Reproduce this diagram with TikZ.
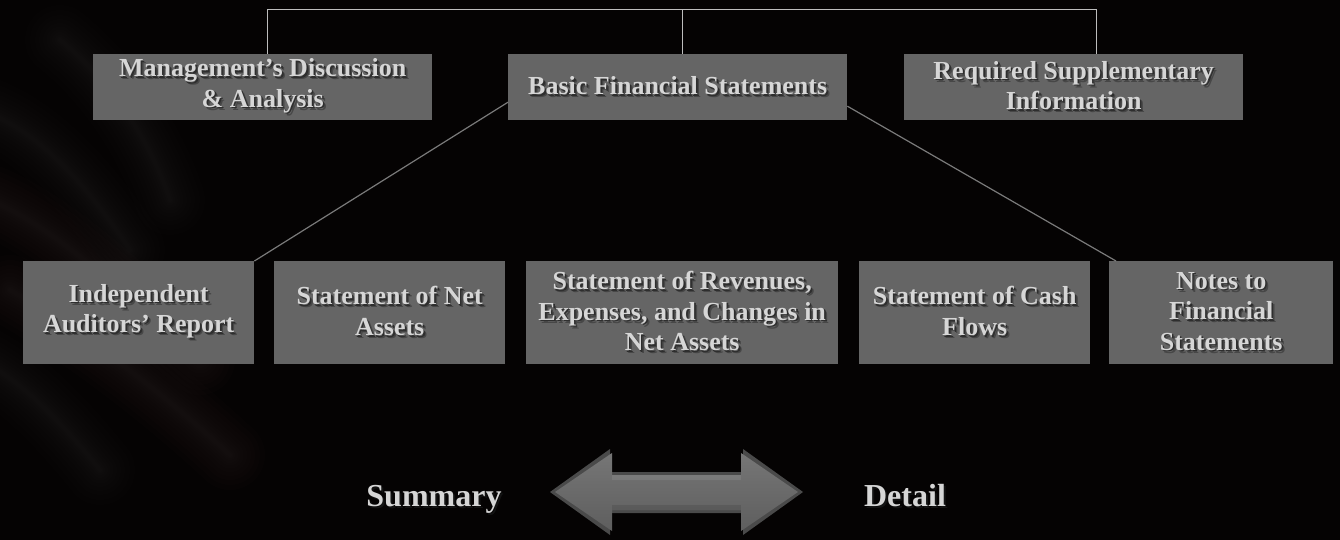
\documentclass[tikz,border=0pt]{standalone}
\usepackage{fontspec}
\setmainfont{Liberation Serif}
\definecolor{bgblack}{HTML}{050303}
\definecolor{boxgray}{HTML}{656565}
\definecolor{txtgray}{HTML}{D6D6D6}
\definecolor{shadownear}{HTML}{2E2E2E}
\definecolor{shadowfar}{HTML}{474747}
\definecolor{bracketgray}{HTML}{BDBDBD}
\definecolor{diaggray}{HTML}{7A7A7A}
\definecolor{streakgray}{HTML}{B4AAAA}
\definecolor{arrowedge}{HTML}{4A4A4A}
\definecolor{arrowtop}{HTML}{767676}
\definecolor{arrowbot}{HTML}{5E5E5E}

% a line of text with a soft dark drop shadow behind it
\newcommand\sh[1]{%
  \rlap{\kern3pt\raisebox{-3pt}{\textcolor{shadowfar}{#1}}}%
  \rlap{\kern1.6pt\raisebox{-1.6pt}{\textcolor{shadownear}{#1}}}#1}
% a shadow on black for the free-standing labels
\newcommand\shb[1]{%
  \rlap{\kern2pt\raisebox{-2pt}{\textcolor{black!85!gray}{#1}}}#1}

% one grey panel with a centred bold caption
\newcommand\panel[6]{%
  \node[panelbox, minimum width=#4, minimum height=#5] (#1) at (#2,#3) {};
  \node[paneltext] (#1-text) at (#1.center) {#6};
}

\begin{document}
\begin{tikzpicture}[x=1pt,y=-1pt,
  panelbox/.style={fill=boxgray, draw=none, inner sep=0pt, anchor=north west},
  paneltext/.style={font=\bfseries\fontsize{26}{30.5}\selectfont, align=center,
    inner sep=0pt, text=txtgray},
  bigtext/.style={font=\bfseries\fontsize{32}{36}\selectfont, inner sep=0pt,
    anchor=base, text=txtgray},
  bracket/.style={draw=bracketgray, line width=1pt},
  diagonal/.style={draw=diaggray, line width=1.2pt},
  streak/.style={draw=streakgray, line cap=round}]

% canvas
\useasboundingbox (0,0) rectangle (1340,540);
\fill[bgblack] (0,0) rectangle (1340,540);

% faint smoky wisps on the left, built up from many soft layers
\foreach \w in {70,60,50,42,34,27,21,16,11,7,4} {
  \draw[streak, line width=\w, opacity=0.009]
    (-20,110) .. controls (40,130) and (90,190) .. (130,250);
  \draw[streak, line width=\w, opacity=0.011]
    (-10,200) .. controls (60,230) and (130,300) .. (200,360);
  \draw[streak, line width=\w, opacity=0.010]
    (10,290) .. controls (80,330) and (160,390) .. (230,455);
  \draw[streak, line width=\w, opacity=0.008]
    (-20,360) .. controls (20,380) and (60,420) .. (100,470);
  \draw[streak, line width=\w, opacity=0.007]
    (60,40) .. controls (110,80) and (150,140) .. (170,200);
}

% top row
\panel{mda}{93}{54}{339}{66}{\sh{Management’s Discussion}\\\sh{\& Analysis}}
\panel{bfs}{508}{54}{339}{66}{\sh{Basic Financial Statements}}
\panel{rsi}{904}{54}{339}{66}{\sh{Required Supplementary}\\\sh{Information}}

% bottom row
\panel{iar}{23}{261}{231}{103}{\sh{Independent}\\\sh{Auditors’ Report}}
\panel{sna}{274}{261}{231}{103}{\sh{Statement of Net}\\\sh{Assets}}
\panel{srec}{526}{261}{312}{103}{\sh{Statement of Revenues,}\\\sh{Expenses, and Changes in}\\\sh{Net Assets}}
\panel{scf}{859}{261}{231}{103}{\sh{Statement of Cash}\\\sh{Flows}}
\panel{nfs}{1109}{261}{224}{103}{\sh{Notes to}\\\sh{Financial}\\\sh{Statements}}

% bracket joining the three top panels
\coordinate (topbar) at (0,10);
\draw[bracket] ([shift={(4.5,0)}]mda.north) -- ([shift={(4.5,0)}]mda.north |- topbar)
  -| ([shift={(22.5,0)}]rsi.north);
\draw[bracket] ([shift={(4.5,0)}]bfs.north) -- ([shift={(4.5,0)}]bfs.north |- topbar);

% basic statements fan out to the first and last component
\draw[diagonal] ([shift={(0,15)}]bfs.west) -- (iar.north east);
\draw[diagonal] ([shift={(0,19)}]bfs.east) -- ([shift={(7,0)}]nfs.north west);

% double-headed bevelled arrow
\fill[arrowedge] (550,492) -- (610,449) -- (610,472) -- (743,472) -- (743,449)
  -- (803,492) -- (743,535) -- (743,513) -- (610,513) -- (610,535) -- cycle;
\shade[top color=arrowtop, bottom color=arrowbot]
  (555,492) -- (612,453) -- (612,475) -- (741,475) -- (741,453)
  -- (798,492) -- (741,531) -- (741,510) -- (612,510) -- (612,531) -- cycle;
\fill[white, opacity=0.08] (612,475) rectangle (741,480);
\fill[black, opacity=0.10] (612,505) rectangle (741,510);

% end labels
\node[bigtext] (summary) at (434,506) {\shb{Summary}};
\node[bigtext] (detail) at (905,506) {\shb{Detail}};
\end{tikzpicture}
\end{document}
